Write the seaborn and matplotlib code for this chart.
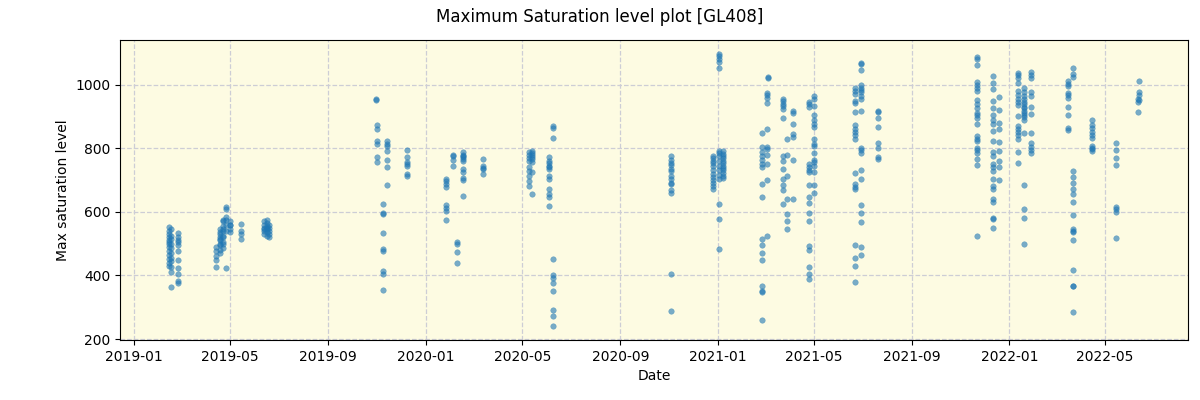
import pandas as pd
import numpy as np
import matplotlib
matplotlib.use("Agg")
import matplotlib.pyplot as plt
import matplotlib.dates as mdates
import seaborn as sns

# dates of each observation run and the max saturation levels read in that run
obs_dates = [
    "2019-02-13", "2019-02-16", "2019-02-25",
    "2019-04-14", "2019-04-18", "2019-04-22", "2019-04-26", "2019-05-01", "2019-05-15",
    "2019-06-13", "2019-06-16", "2019-06-19",
    "2019-10-31", "2019-11-01", "2019-11-09", "2019-11-14", "2019-12-09",
    "2020-01-27", "2020-02-04", "2020-02-09", "2020-02-17", "2020-03-13",
    "2020-05-09", "2020-05-13", "2020-06-03", "2020-06-08",
    "2020-11-03",
    "2020-12-26", "2021-01-02", "2021-01-07",
    "2021-02-25", "2021-03-03", "2021-03-05",
    "2021-03-23", "2021-03-29", "2021-04-05",
    "2021-04-25", "2021-05-01",
    "2021-06-22", "2021-06-29", "2021-07-20",
    "2021-11-21", "2021-12-12", "2021-12-19",
    "2022-01-12", "2022-01-20", "2022-01-28",
    "2022-03-16", "2022-03-22",
    "2022-04-15",
    "2022-05-15",
    "2022-06-11", "2022-06-13",
]

sat_levels = [
    [553, 540, 530, 520, 512, 505, 498, 490, 478, 465, 452, 440, 430],
    [545, 525, 515, 500, 485, 470, 455, 445, 425, 410, 365],
    [533, 520, 512, 505, 495, 477, 448, 423, 404, 383, 375],
    [426, 450, 462, 478, 490],
    [500, 510, 520, 535, 545, 530, 515, 495, 480, 470],
    [505, 520, 540, 555, 570, 575, 525, 500, 485, 545],
    [614, 608, 583, 575, 560, 540, 423],
    [570, 560, 558, 545, 536],
    [563, 540, 530, 516],
    [540, 550, 560, 570, 545, 530],
    [525, 535, 545, 555, 565, 575, 550],
    [530, 540, 548, 560, 522],
    [953, 950],
    [872, 859, 824, 814, 773, 758],
    [623, 597, 592, 532, 482, 478, 413, 405, 354],
    [824, 812, 806, 791, 762, 742, 685],
    [793, 773, 757, 749, 744, 720, 712],
    [704, 697, 686, 679, 620, 613, 603, 573],
    [780, 774, 764, 744],
    [506, 498, 475, 438],
    [788, 780, 776, 771, 765, 760, 736, 725, 705, 700, 651],
    [765, 743, 738, 733, 718],
    [788, 780, 770, 760, 740, 727, 712, 697, 681],
    [790, 785, 778, 772, 765, 755, 724, 655],
    [771, 760, 752, 745, 740, 733, 712, 702, 671, 655, 646, 618],
    [869, 864, 833, 451, 400, 392, 375, 350, 291, 272, 240],
    [775, 763, 754, 746, 736, 728, 712, 704, 690, 686, 669, 658, 406, 287],
    [775, 768, 760, 752, 744, 732, 720, 710, 700, 690, 680, 672],
    [1097, 1089, 1081, 1071, 1052, 791, 785, 775, 760, 745, 730, 715, 704, 624, 576, 482],
    [790, 782, 775, 768, 760, 752, 745, 738, 730, 722, 712, 705],
    [848, 804, 787, 775, 762, 750, 740, 686, 648, 516, 496, 469, 447, 368, 350, 347, 259],
    [974, 966, 958, 943, 861, 805, 796, 780, 749, 699, 525],
    [1024, 1019],
    [955, 948, 940, 932, 922, 896, 775, 761, 733, 702, 684, 668, 624],
    [828, 780, 714, 641, 592, 572, 545],
    [918, 911, 875, 843, 836, 762, 639],
    [945, 938, 928, 749, 740, 732, 724, 683, 648, 629, 595, 572, 493, 479, 425, 404, 388],
    [964, 953, 934, 903, 887, 875, 865, 830, 814, 807, 786, 763, 755, 744, 725, 685, 660],
    [990, 980, 969, 948, 943, 913, 872, 860, 850, 840, 830, 723, 686, 678, 671, 495, 454, 431, 378],
    [1068, 1063, 1047, 1000, 990, 982, 975, 965, 953, 916, 802, 795, 786, 731, 702, 620, 595, 569, 488, 464],
    [918, 913, 894, 867, 815, 802, 773, 765],
    [1087, 1081, 1062, 1008, 998, 990, 979, 950, 940, 927, 911, 903, 896, 877, 838, 830, 822, 802, 795, 786, 767, 746, 525],
    [1028, 1005, 987, 948, 927, 903, 890, 875, 854, 822, 787, 775, 749, 740, 728, 704, 681, 673, 641, 632, 579, 576, 550],
    [960, 920, 880, 860, 820, 790, 760, 740, 700],
    [1037, 1030, 1020, 1005, 979, 968, 955, 945, 937, 901, 870, 860, 850, 840, 828, 788, 754],
    [990, 975, 965, 955, 945, 938, 930, 925, 918, 910, 905, 898, 890, 848, 683, 610, 582, 500],
    [1039, 1030, 1021, 976, 964, 930, 906, 848, 817, 805, 795, 786],
    [1010, 1003, 995, 974, 966, 958, 929, 903, 864, 857],
    [1052, 1034, 1023, 728, 710, 690, 672, 655, 632, 589, 545, 540, 535, 510, 416, 368, 366, 284],
    [887, 872, 862, 852, 842, 832, 807, 800, 796, 791],
    [817, 795, 770, 746, 615, 610, 598, 519],
    [946, 955, 914],
    [1010, 976, 966, 950],
]

# one row per point
rows = []
for d, vals in zip(obs_dates, sat_levels):
    for v in vals:
        rows.append((pd.Timestamp(d), v))
df = pd.DataFrame(rows, columns=["Date", "Max saturation level"])

fig, ax = plt.subplots(figsize=(12, 4), dpi=100)
ax.set_facecolor("#fdfbe2")
sns.scatterplot(data=df, x="Date", y="Max saturation level", ax=ax,
                color="#1f77b4", alpha=0.6, s=16, edgecolor="#1f77b4", linewidth=0.3, zorder=3)
ax.grid(True, linestyle="--", color="#cdcdd5", linewidth=0.9)
ax.set_axisbelow(True)

ax.xaxis.set_major_locator(mdates.MonthLocator(bymonth=[1, 5, 9]))
ax.xaxis.set_major_formatter(mdates.DateFormatter("%Y-%m"))
ax.set_xlabel("Date")
ax.set_ylabel("Max saturation level")
fig.suptitle("Maximum Saturation level plot [GL408]")

fig.subplots_adjust(left=0.1, right=0.99, top=0.9, bottom=0.15)
fig.savefig("out.png")
